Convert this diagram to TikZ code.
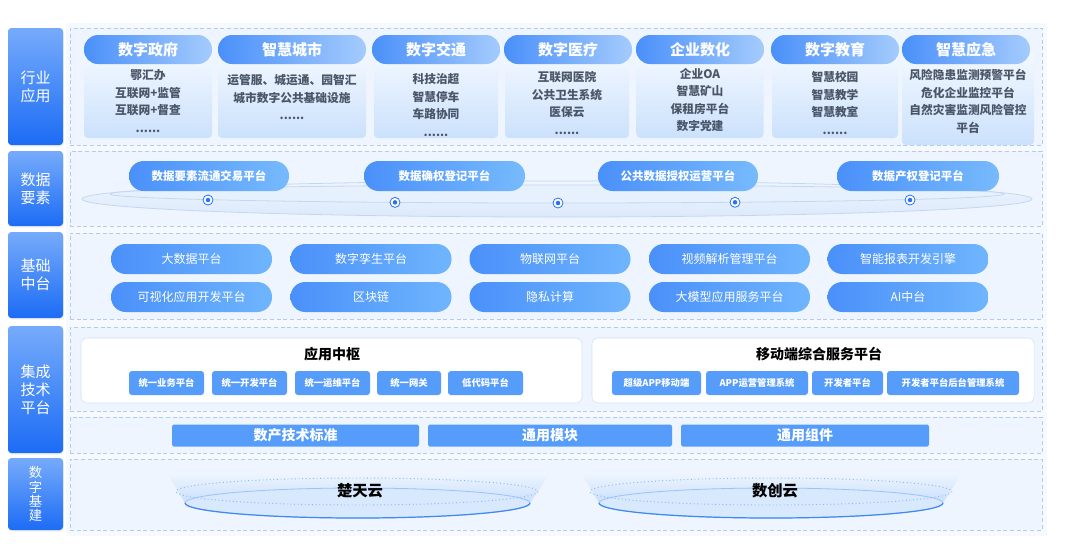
\documentclass[tikz,border=0pt]{standalone}
\usepackage{fontspec}
\setmainfont{Noto Sans CJK SC}
\usetikzlibrary{shadows}
\definecolor{labtop}{HTML}{76ABFB}
\definecolor{labbot}{HTML}{1C6CF5}
\definecolor{panelbg}{HTML}{EEF5FE}
\definecolor{dashc}{HTML}{B3CBEC}
\definecolor{backdrop}{HTML}{F6F9FE}
\definecolor{pal}{HTML}{4A90FA}
\definecolor{par}{HTML}{A4CBFD}
\definecolor{cbt}{HTML}{F4F9FF}
\definecolor{cbb}{HTML}{CBE1FC}
\definecolor{pbr}{HTML}{77BAFD}
\definecolor{pcr}{HTML}{6FB5FD}
\definecolor{btn}{HTML}{559CFB}
\definecolor{txtc}{HTML}{4A5568}
\definecolor{ringline}{HTML}{C3D7F3}
\definecolor{ringfill}{HTML}{DCE9FB}
\definecolor{dotblue}{HTML}{2A72F2}
\definecolor{dishc}{HTML}{C9DFFC}
\definecolor{dishfill}{HTML}{D8E8FD}
\definecolor{dishline}{HTML}{3F88F4}
\definecolor{dishlite}{HTML}{9CC2F7}
\definecolor{dotline}{HTML}{8AB6F5}
\tikzset{
  sz/.style 2 args={minimum width=#1*0.75pt, minimum height=#2*0.75pt, inner sep=0pt, outer sep=0pt},
  lab/.style={rounded corners=2.5pt, top color=labtop, bottom color=labbot, text=white,
    font=\fontsize{11.25}{13.5}\selectfont, align=center,
    drop shadow={opacity=0.12, shadow xshift=0.6pt, shadow yshift=-1.2pt}},
  panel/.style={draw=dashc, dash pattern=on 3pt off 2pt, fill=panelbg, line width=0.6pt},
  pillA/.style={rounded corners=10.5pt, left color=pal, right color=par, text=white,
    font=\bfseries\fontsize{11.25}{13}\selectfont},
  cbox/.style={rounded corners=3pt, top color=cbt, bottom color=cbb},
  ctext/.style={text=txtc, align=center, font=\bfseries\fontsize{8.8}{13.1}\selectfont, inner sep=0pt},
  pillB/.style={rounded corners=11pt, left color=pal, right color=pbr, text=white,
    font=\bfseries\fontsize{8.6}{10}\selectfont},
  pillC/.style={rounded corners=11pt, left color=pal, right color=pcr, text=white,
    font=\fontsize{9}{10}\selectfont},
  wbox/.style={rounded corners=4.5pt, fill=white, draw=dashc!60, line width=0.4pt},
  wtitle/.style={font=\bfseries\fontsize{10.5}{12}\selectfont, text=black, inner sep=0pt},
  btnbox/.style={rounded corners=2.2pt, fill=btn, text=white, font=\bfseries\fontsize{7}{8}\selectfont},
  bar/.style={rounded corners=1.2pt, fill=btn, text=white, font=\bfseries\fontsize{10.5}{12}\selectfont},
  ringdot/.style={circle, draw=dotblue, fill=white, line width=0.6pt, minimum size=7.5pt, inner sep=0pt},
  cloudtxt/.style={font=\bfseries\fontsize{11.5}{13}\selectfont, text=black, inner sep=0pt},
}
\begin{document}
\begin{tikzpicture}[x=0.75pt,y=-0.75pt]
\useasboundingbox (0,0) rectangle (1080,558);
\fill[white] (0,0) rectangle (1080,558);
\fill[backdrop] (66,23) rectangle (1047,536);

% ---------- left labels ----------
\node[lab, sz={55}{117}] (l1) at (35.5,86.5) {行业\\应用};
\node[lab, sz={55}{75}]  (l2) at (35.5,188.5) {数据\\要素};
\node[lab, sz={55}{86}]  (l3) at (35.5,275) {基础\\中台};
\node[lab, sz={55}{127}] (l4) at (35.5,389.5) {集成\\技术\\平台};
\node[lab, sz={55}{72}, font=\fontsize{10}{10.6}\selectfont] (l5) at (35.5,494) {数\\字\\基\\建};

% ---------- panels ----------
\node[panel, sz={972}{117}] (p1) at (556,86.5) {};
\node[panel, sz={972}{75}]  (p2) at (556,188.5) {};
\node[panel, sz={972}{86}]  (p3) at (556,276) {};
\node[panel, sz={972}{84}]  (p4a) at (556,369) {};
\node[panel, sz={972}{36}]  (p4b) at (556,435) {};
\node[panel, sz={972}{71}]  (p5) at (556,494.5) {};

% ---------- row 1: industry applications ----------
\node[cbox, sz={128}{88}] (b1) at (148,94) {};
\node[cbox, sz={148}{88}] (b2) at (292,94) {};
\node[cbox, sz={124}{88}] (b3) at (436,94) {};
\node[cbox, sz={124}{88}] (b4) at (567,94) {};
\node[cbox, sz={127}{88}] (b5) at (700,94) {};
\node[cbox, sz={126}{88}] (b6) at (835,94) {};
\node[cbox, sz={132}{95}] (b7) at (968,97.5) {};

\node[pillA, sz={128}{29}] (h1) at (148,49.5) {数字政府};
\node[pillA, sz={148}{29}] (h2) at (292,49.5) {智慧城市};
\node[pillA, sz={128}{29}] (h3) at (436,49.5) {数字交通};
\node[pillA, sz={128}{29}] (h4) at (568,49.5) {数字医疗};
\node[pillA, sz={128}{29}] (h5) at (700,49.5) {企业数化};
\node[pillA, sz={128}{29}] (h6) at (835,49.5) {数字教育};
\node[pillA, sz={128}{29}] (h7) at (966,49.5) {智慧应急};

\node[ctext] (t1) at (148,101) {鄂汇办\\互联网+监管\\互联网+督查\\......};
\node[ctext] (t2) at (292,97) {运管服、城运通、园智汇\\城市数字公共基础设施\\......};
\node[ctext] (t3) at (436,105) {科技治超\\智慧停车\\车路协同\\......};
\node[ctext] (t4) at (567,103) {互联网医院\\公共卫生系统\\医保云\\......};
\node[ctext] (t5) at (700,100) {企业OA\\智慧矿山\\保租房平台\\数字党建};
\node[ctext] (t6) at (835,103) {智慧校园\\智慧教学\\智慧教室\\......};
\node[ctext] (t7) at (968,101.5) {风险隐患监测预警平台\\危化企业监控平台\\自然灾害监测风险管控\\平台};

% ---------- row 2: data elements ----------
\shade[top color=panelbg, bottom color=ringfill, draw=ringline, line width=0.6pt]
  (557,199) ellipse [x radius=475, y radius=18];
\draw[ringline, line width=0.6pt, fill=panelbg!60!ringfill] (557,194) ellipse [x radius=447, y radius=9];

\node[pillB, sz={160}{30}] (e1) at (209,176) {数据要素流通交易平台};
\node[pillB, sz={161}{30}] (e2) at (444.5,176) {数据确权登记平台};
\node[pillB, sz={160}{30}] (e3) at (678,176) {公共数据授权运营平台};
\node[pillB, sz={162}{30}] (e4) at (918,176) {数据产权登记平台};

\node[ringdot] (d1) at (208,200) {};
\node[ringdot] (d2) at (395,202.4) {};
\node[ringdot] (d3) at (558,203) {};
\node[ringdot] (d4) at (735,202.3) {};
\node[ringdot] (d5) at (910,200) {};
\foreach \d in {d1,d2,d3,d4,d5} \fill[dotblue] (\d) circle (1.7pt);

% ---------- row 3: base middle platform ----------
\node[pillC, sz={161}{30}] (m1) at (191.5,259) {大数据平台};
\node[pillC, sz={161}{30}] (m2) at (371,259) {数字孪生平台};
\node[pillC, sz={161}{30}] (m3) at (550,259) {物联网平台};
\node[pillC, sz={161}{30}] (m4) at (729.5,259) {视频解析管理平台};
\node[pillC, sz={161}{30}] (m5) at (908,259) {智能报表开发引擎};
\node[pillC, sz={161}{30}] (m6) at (191.5,297) {可视化应用开发平台};
\node[pillC, sz={161}{30}] (m7) at (371,297) {区块链};
\node[pillC, sz={161}{30}] (m8) at (550,297) {隐私计算};
\node[pillC, sz={161}{30}] (m9) at (729.5,297) {大模型应用服务平台};
\node[pillC, sz={161}{30}] (m10) at (908,297) {AI中台};

% ---------- row 4: integration technology platform ----------
\node[wbox, sz={501}{65}] (w1) at (331.5,370.5) {};
\node[wbox, sz={442}{65}] (w2) at (813,370.5) {};
\node[wtitle] (w1t) at (332,354) {应用中枢};
\node[wtitle] (w2t) at (819,354) {移动端综合服务平台};

\node[btnbox, sz={75}{24}] (a1) at (166.5,383) {统一业务平台};
\node[btnbox, sz={75}{24}] (a2) at (249.5,383) {统一开发平台};
\node[btnbox, sz={75}{24}] (a3) at (332.5,383) {统一运维平台};
\node[btnbox, sz={64}{24}] (a4) at (409,383) {统一网关};
\node[btnbox, sz={75}{24}] (a5) at (485.5,383) {低代码平台};

\node[btnbox, sz={89}{24}]  (c1) at (656.5,383) {超级APP移动端};
\node[btnbox, sz={102}{24}] (c2) at (757,383) {APP运营管理系统};
\node[btnbox, sz={71}{24}]  (c3) at (847.5,383) {开发者平台};
\node[btnbox, sz={132}{24}] (c4) at (953,383) {开发者平台后台管理系统};

\node[bar, sz={247}{22}] (s1) at (295.5,435.5) {数产技术标准};
\node[bar, sz={244}{22}] (s2) at (550,435.5) {通用模块};
\node[bar, sz={248}{22}] (s3) at (805,435.5) {通用组件};

% ---------- row 5: digital infrastructure ----------
\shade[top color=panelbg, bottom color=dishc] (167,473) -- (550,473) -- (530,503) -- (185,503) -- cycle;
\draw[dishlite, line width=0.6pt, fill=dishfill] (357.5,503) ellipse [x radius=172.5, y radius=15];
\draw[dishline, line width=0.9pt] (185,503) arc[start angle=180, end angle=0, x radius=172.5, y radius=15];
\draw[dotline, line width=0.7pt, dotted] (357,491.5) ellipse [x radius=181, y radius=13.5];
\node[cloudtxt] (k1) at (360,491) {楚天云};

\shade[top color=panelbg, bottom color=dishc] (581,473) -- (962,473) -- (943,503) -- (599,503) -- cycle;
\draw[dishlite, line width=0.6pt, fill=dishfill] (771,503) ellipse [x radius=172, y radius=15];
\draw[dishline, line width=0.9pt] (599,503) arc[start angle=180, end angle=0, x radius=172, y radius=15];
\draw[dotline, line width=0.7pt, dotted] (771,491.5) ellipse [x radius=181, y radius=13.5];
\node[cloudtxt] (k2) at (775,491) {数创云};
\end{tikzpicture}
\end{document}
